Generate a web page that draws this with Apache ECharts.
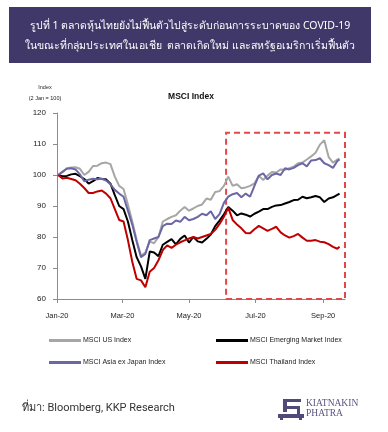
<!DOCTYPE html>
<html>
<head>
<meta charset="utf-8">
<script src="https://cdn.jsdelivr.net/npm/echarts@6/dist/echarts.min.js"></script>
<style>
html,body{margin:0;padding:0;background:#fff;}
#chart{width:388px;height:432px;}
</style>
</head>
<body>
<div id="chart"></div>
<script>
// ---- data ----
const dates = ['2020-01-02','2020-01-06','2020-01-10','2020-01-14','2020-01-18','2020-01-22','2020-01-26','2020-01-30',
'2020-02-03','2020-02-07','2020-02-11','2020-02-15','2020-02-19','2020-02-23','2020-02-27',
'2020-03-02','2020-03-06','2020-03-10','2020-03-14','2020-03-18','2020-03-22','2020-03-26','2020-03-30',
'2020-04-03','2020-04-07','2020-04-11','2020-04-15','2020-04-19','2020-04-23','2020-04-27',
'2020-05-01','2020-05-05','2020-05-09','2020-05-13','2020-05-17','2020-05-21','2020-05-25','2020-05-29',
'2020-06-02','2020-06-06','2020-06-10','2020-06-14','2020-06-18','2020-06-22','2020-06-26','2020-06-30',
'2020-07-04','2020-07-08','2020-07-12','2020-07-16','2020-07-20','2020-07-24','2020-07-28',
'2020-08-01','2020-08-05','2020-08-09','2020-08-13','2020-08-17','2020-08-21','2020-08-25','2020-08-29',
'2020-09-02','2020-09-06','2020-09-10','2020-09-14','2020-09-16'];

const msciUS = [100,101,102.2,102.4,102.5,102,100,101,
102.9,103,103.8,104,103.5,99.5,96.5,
95.5,90.5,85,79,74,75,78.5,78,
80,85,85.8,86.5,87,88.5,89.7,
88.5,89.2,90,90.5,92.4,92,94.5,94.8,
96.5,99.5,96.5,97,95.7,96,96.5,97.3,
99.8,98.4,99.8,101,100.8,101.8,101.7,
102.2,102.7,103.8,104,105,106,107.2,109.8,
111.2,105.8,104,105,105.3];

const msciEM = [100,99.6,99.7,100.2,100.4,99.6,98.7,97.2,
98,99,98.7,98.6,97.2,93.5,90,
89,85,79,73.5,70.5,66.5,75.3,75,
73.8,77.5,78.4,79.3,77.6,79.4,80.5,
78.2,80,78.6,78.2,79.4,80.8,83.5,85.3,
87.3,89.7,88.5,87,87.6,87.2,86.6,87.5,
88.2,89,89,89.7,90.2,90.3,90.8,
91.3,91.9,92,93,92.5,92.8,93.2,92.8,
91.3,92.4,92.8,93.6,94];

const msciAxJ = [100,101,102,102.2,101.8,100.2,98,98.5,
98.8,98.6,98.8,98.2,97,95.2,94,
93,88.5,84,78.5,73.5,74.5,79,79.5,
80,83.5,84.3,84.2,85.3,84.9,86.5,
85.4,85.8,86.5,87.5,87,88.3,85.8,87.4,
91,93,93.8,94.2,92.8,94,93,96.5,
99.8,100.5,98.6,100,100.5,100,102.2,
101.8,102.3,103.2,103.8,102.8,104.7,104.8,105.4,
103.8,103.2,102.3,104.5,105];

const msciTH = [100,98.9,99.1,98.7,98.3,97.2,95.8,94.2,
94.2,94.7,95,94,92.5,89,85.5,
85,79,72,66.5,66,63.8,68.8,70,
72.5,75.8,77.3,76.5,77.5,78.3,78.9,
79.5,80,79.5,80,80.5,81,82.3,84.2,
86.5,89.5,85.5,84,82.8,81.3,81.2,82.5,
83.6,82.8,82,82.6,83.3,81.5,80.5,
79.8,80.3,81,79.8,78.8,78.8,79,78.5,
78.3,77.7,76.8,76.2,76.9];

const seriesNames = ['MSCI US Index','MSCI Emerging Market Index','MSCI Asia ex Japan Index','MSCI Thailand Index'];
const xTickDates = ['2020-01-01','2020-03-01','2020-05-01','2020-07-01','2020-09-01'];
const xMin = '2020-01-01';
const xMax = '2020-09-21';
const yTicks = [60,70,80,90,100,110,120];
const highlightStart = '2020-06-04';
const highlightTop = 113.6;
const monthNames = ['Jan','Feb','Mar','Apr','May','Jun','Jul','Aug','Sep','Oct','Nov','Dec'];

// ---- chart ----
const ts = s => echarts.time.parse(s).getTime();
const chart = echarts.init(document.getElementById('chart'), null, {renderer:'canvas'});
const pair = arr => dates.map((d,i)=>[ts(d), arr[i]]);
const colors = ['#a6a6a6','#000000','#6b67a6','#c00000'];
const allData = [msciUS, msciEM, msciAxJ, msciTH];
const tickTs = xTickDates.map(ts);

const series = seriesNames.map((n,i)=>({
  name:n, type:'line', data:pair(allData[i]), showSymbol:false, symbol:'none',
  color: colors[i],
  lineStyle:{color:colors[i], width:2},
  z: 2+i
}));
series[3].markArea = {
  silent:true,
  itemStyle:{color:'rgba(0,0,0,0)', borderColor:'#e04848', borderWidth:2, borderType:[6,4]},
  data:[[{xAxis:ts(highlightStart), yAxis:yTicks[0]},{xAxis:ts(xMax), yAxis:highlightTop}]]
};

const legendBase = {
  icon:'rect', itemWidth:32, itemHeight:3, padding:0, itemGap:0,
  textStyle:{fontSize:7, color:'#222', fontFamily:'Liberation Sans', padding:[0,0,0,-3]}
};
const legendPos = [[49,337],[216,337],[49,359],[216,359]];

chart.setOption({
  animation:false,
  backgroundColor:'#ffffff',
  grid:{left:57, right:43, top:113, bottom:133, containLabel:false},
  xAxis:{
    type:'value', min:ts(xMin), max:ts(xMax), scale:true,
    axisLine:{show:true, onZero:false, lineStyle:{color:'#8c8c8c', width:1}},
    axisTick:{show:true, length:4, inside:false, customValues:tickTs, lineStyle:{color:'#8c8c8c'}},
    axisLabel:{customValues:tickTs, margin:13, fontSize:7.5, color:'#222', fontFamily:'Liberation Sans',
      formatter:function(v){ const d=new Date(v); return monthNames[d.getMonth()]+'-'+String(d.getFullYear()).slice(2); }},
    splitLine:{show:false}, minorTick:{show:false}
  },
  yAxis:{
    type:'value', min:yTicks[0], max:yTicks[yTicks.length-1], interval:10,
    axisLine:{show:true, lineStyle:{color:'#8c8c8c', width:1}},
    axisTick:{show:true, length:4, inside:false, lineStyle:{color:'#8c8c8c'}},
    axisLabel:{margin:11, fontSize:8, color:'#222', fontFamily:'Liberation Sans'},
    splitLine:{show:false}
  },
  legend: seriesNames.map((n,i)=>Object.assign({}, legendBase, {data:[n], left:legendPos[i][0], top:legendPos[i][1]})),
  series: series,
  graphic:[
    {type:'rect', shape:{x:9, y:7, width:362, height:56}, style:{fill:'#3f3868'}, z:10},
    {type:'text', x:190, y:26, style:{text:'รูปที่ 1 ตลาดหุ้นไทยยังไม่ฟื้นตัวไปสู่ระดับก่อนการระบาดของ COVID-19', fill:'#ffffff', font:'10.5px "Noto Sans", sans-serif', textAlign:'center', textVerticalAlign:'middle'}, z:11},
    {type:'text', x:190, y:46, style:{text:'ในขณะที่กลุ่มประเทศในเอเชีย  ตลาดเกิดใหม่ และสหรัฐอเมริกาเริ่มฟื้นตัว', fill:'#ffffff', font:'10.5px "Noto Sans", sans-serif', textAlign:'center', textVerticalAlign:'middle'}, z:11},
    {type:'text', x:45, y:87, style:{text:'Index', fill:'#222', font:'5.5px "Liberation Sans"', textAlign:'center', textVerticalAlign:'middle'}},
    {type:'text', x:45, y:98, style:{text:'(2 Jan = 100)', fill:'#222', font:'5.5px "Liberation Sans"', textAlign:'center', textVerticalAlign:'middle'}},
    {type:'text', x:191, y:97, style:{text:'MSCI Index', fill:'#111', font:'bold 8.5px "Liberation Sans"', textAlign:'center', textVerticalAlign:'middle'}},
    {type:'text', x:22, y:408, style:{text:'ที่มา: Bloomberg, KKP Research', fill:'#333', font:'11px Roboto, sans-serif', textAlign:'left', textVerticalAlign:'middle'}},
    {type:'text', x:306, y:403, style:{text:'KIATNAKIN', fill:'#5a5580', font:'9.5px "Liberation Serif"', textAlign:'left', textVerticalAlign:'middle'}},
    {type:'text', x:306, y:413, style:{text:'PHATRA', fill:'#5a5580', font:'9.5px "Liberation Serif"', textAlign:'left', textVerticalAlign:'middle'}},
    {type:'group', children:[
      {type:'rect', shape:{x:283, y:399, width:18, height:3}, style:{fill:'#4f4a7a'}},
      {type:'rect', shape:{x:283, y:399, width:4, height:13}, style:{fill:'#4f4a7a'}},
      {type:'rect', shape:{x:283, y:406, width:17, height:3}, style:{fill:'#4f4a7a'}},
      {type:'rect', shape:{x:297, y:406, width:3, height:8}, style:{fill:'#4f4a7a'}},
      {type:'rect', shape:{x:278, y:414, width:26, height:4}, style:{fill:'#4f4a7a'}},
      {type:'rect', shape:{x:280, y:418, width:3, height:2}, style:{fill:'#4f4a7a'}},
      {type:'rect', shape:{x:299, y:418, width:3, height:2}, style:{fill:'#4f4a7a'}}
    ]}
  ]
});
</script>
</body>
</html>
